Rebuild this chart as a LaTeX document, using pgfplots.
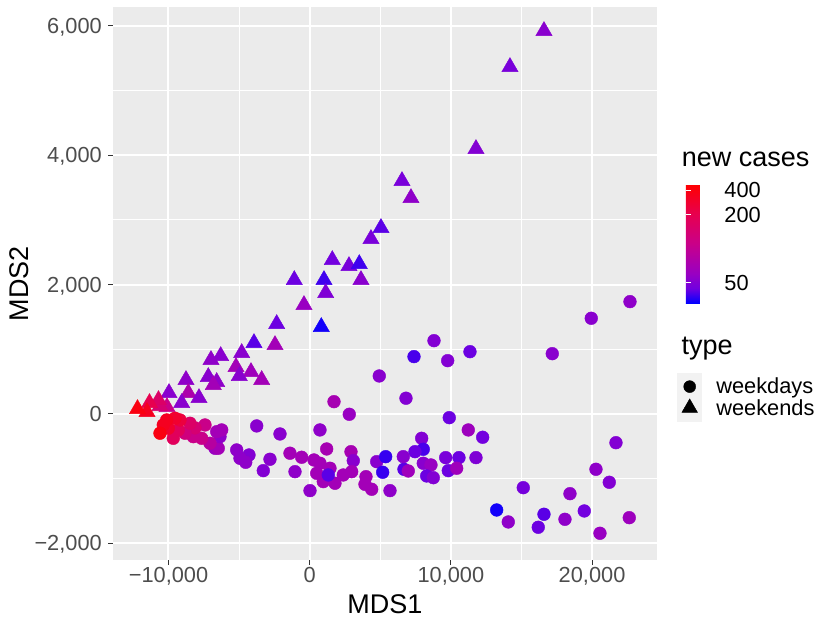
\documentclass[border=0pt]{standalone}
\usepackage{fontspec}
\setmainfont{Liberation Sans}
\usepackage{pgfplots}
\pgfplotsset{compat=1.18}
\definecolor{panel}{HTML}{EBEBEB}
\definecolor{grey30}{HTML}{4D4D4D}
\definecolor{grey20}{HTML}{333333}
\definecolor{keygrey}{HTML}{F2F2F2}
\newcommand{\ticksize}{\fontsize{21.8bp}{26bp}\selectfont}
\newcommand{\titlesize}{\fontsize{27bp}{32bp}\selectfont}
\pgfplotsset{colormap={bluered}{rgb255(0cm)=(0,0,255); rgb255(1cm)=(113,0,224); rgb255(2cm)=(153,0,194); rgb255(4cm)=(201,0,137); rgb255(6cm)=(231,0,79); rgb255(8cm)=(255,0,0)}}
\pgfplotstableread{
x y c
16593 5920 0.20
14185 5363 0.15
11777 4096 0.18
6537 3601 0.15
7174 3338 0.22
5049 2875 0.10
4341 2705 0.15
1601 2380 0.13
2783 2287 0.15
3513 2318 0.07
3633 2071 0.20
-1091 2071 0.12
1013 2071 0.07
1133 1870 0.17
-404 1685 0.25
-2337 1391 0.12
822 1345 0.02
-3945 1097 0.10
-2457 1066 0.30
-4816 943 0.20
-6303 896 0.20
-6990 835 0.22
-5219 726 0.30
-4157 649 0.28
-3399 526 0.30
-4986 587 0.20
-7181 572 0.20
-6586 495 0.22
-6827 448 0.30
-8760 526 0.22
-9964 325 0.20
-8598 325 0.35
-7840 247 0.20
-9065 170 0.20
-10106 108 0.50
-10602 124 0.60
-10708 216 0.65
-11345 170 0.75
-11522 31 0.90
-12195 77 0.95
}\weekends
\pgfplotstableread{
x y c
22684 1736 0.22
19943 1479 0.20
17181 932 0.20
8803 1133 0.18
7387 886 0.08
9773 824 0.18
11352 963 0.12
4929 587 0.20
6820 243 0.18
1721 190 0.32
2804 -5 0.25
9886 -57 0.12
729 -247 0.22
11232 -247 0.27
12252 -360 0.13
-2103 -309 0.20
7932 -376 0.18
8045 -546 0.08
7457 -583 0.12
8045 -762 0.20
8590 -788 0.25
8286 -958 0.12
8753 -985 0.18
9632 -675 0.15
10573 -675 0.12
11777 -675 0.17
9816 -876 0.12
10411 -839 0.28
6678 -855 0.10
6983 -881 0.28
13243 -1484 0.02
15127 -1139 0.14
14065 -1669 0.22
21692 -444 0.18
20276 -855 0.22
21218 -1056 0.18
18434 -1232 0.22
16593 -1550 0.10
19447 -1499 0.13
16189 -1751 0.12
18080 -1628 0.22
20559 -1844 0.25
22634 -1603 0.27
-3753 -185 0.20
-5170 -556 0.22
-4299 -634 0.18
-4936 -685 0.22
-4532 -747 0.22
-2812 -700 0.20
-3286 -876 0.18
-1395 -607 0.30
-567 -669 0.30
-1041 -892 0.22
1204 -541 0.32
2925 -583 0.32
3088 -722 0.20
305 -711 0.30
729 -762 0.30
1438 -839 0.30
496 -917 0.30
963 -1046 0.30
1792 -1071 0.30
2380 -943 0.30
2974 -892 0.30
3987 -969 0.30
3916 -1087 0.30
4391 -1164 0.30
21 -1185 0.22
5687 -1185 0.22
4745 -737 0.20
5382 -660 0.06
5170 -901 0.06
6629 -660 0.20
1317 -943 0.10
-6707 -530 0.25
-6473 -530 0.30
-6353 -351 0.22
-6232 -247 0.30
-6586 -274 0.30
-7061 -453 0.40
-7649 -376 0.50
-7415 -170 0.50
-8243 -351 0.50
-8123 -216 0.60
-8831 -298 0.55
-8477 -144 0.65
-9306 -247 0.70
-9660 -376 0.70
-9185 -93 0.80
-9539 -66 0.85
-10014 -221 0.85
-10127 -93 0.90
-10368 -170 0.90
-10602 -298 0.95
}\weekdays
\begin{document}
\begin{tikzpicture}
\path[use as bounding box] (-113bp,-63bp) rectangle (717bp,560bp);
\fill[keygrey] (564bp,138.3bp) rectangle (589bp,187bp);
\begin{axis}[
  at={(0,0)}, anchor=south west,
  scale only axis, width=543.6bp, height=553bp,
  xmin=-13930, xmax=24570, ymin=-2257, ymax=6290,
  scaled ticks=false,
  axis background/.style={fill=panel},
  axis line style={draw=none},
  grid=both,
  major grid style={white, line width=2bp},
  minor grid style={white, line width=1bp},
  xtick={-10000,0,10000,20000}, minor xtick={-5000,5000,15000},
  ytick={-2000,0,2000,4000,6000}, minor ytick={-1000,1000,3000,5000},
  xticklabels={{−10,000},{0},{10,000},{20,000}},
  yticklabels={{−2,000},{0},{2,000},{4,000},{6,000}},
  tick pos=left, tick align=outside,
  major tick length=4.5bp, minor tick length=0pt,
  tick style={grey20, line width=1bp},
  xticklabel style={font=\ticksize, text=grey30, inner sep=0pt, text depth=0pt, anchor=north, yshift=-3bp},
  yticklabel style={font=\ticksize, text=grey30, inner sep=0pt, text depth=0pt, anchor=east, xshift=-6.5bp},
  colormap name=bluered,
  point meta min=0, point meta max=1,
  colorbar,
  colorbar style={
    at={(564.3bp,256.7bp)}, anchor=south west,
    scale only axis, width=24.4bp, height=119bp,
    ytick={0.173,0.742,0.952}, yticklabels={50,200,400},
    yticklabel pos=right, ytick pos=both,
    tick align=inside, major tick length=5bp,
    tick style={white, line width=1bp},
    axis line style={draw=none},
    yticklabel style={font=\ticksize, text=black, inner sep=0pt, text depth=0pt, anchor=west, xshift=14bp},
  },
  legend style={at={(1.0436,0.3295)}, anchor=north west, draw=none, fill=none,
    font=\ticksize, inner sep=0pt, row sep=3.6bp, column sep=0pt,
    nodes={inner sep=0pt}},
  legend cell align=left,
  legend image code/.code={\draw[#1] plot coordinates {(0bp,0bp)}; \path (-9bp,0bp) (26.4bp,0bp);},
]
\addplot[scatter, only marks, scatter src=explicit, mark=*, mark size=6.4bp,
  scatter/use mapped color={draw=mapped color, fill=mapped color}, forget plot]
  table[x=x, y=y, meta=c] {\weekdays};
\addplot[scatter, only marks, scatter src=explicit, mark=triangle*, mark size=9.4bp,
  scatter/use mapped color={draw=mapped color, fill=mapped color}, forget plot]
  table[x=x, y=y, meta=c] {\weekends};
\addlegendimage{only marks, mark=*, black, mark size=6bp}
\addlegendentry{weekdays}
\addlegendimage{only marks, mark=triangle*, black, mark size=9bp}
\addlegendentry{weekends}
\end{axis}
\node[anchor=base west, font=\titlesize] at (565.3bp,393.3bp) {new cases};
\node[anchor=base west, font=\titlesize] at (565bp,205bp) {type};
\node[anchor=base, font=\titlesize] at (271.8bp,-53bp) {MDS1};
\node[anchor=base, rotate=90, font=\titlesize] at (-84.7bp,276.5bp) {MDS2};
\end{tikzpicture}
\end{document}
